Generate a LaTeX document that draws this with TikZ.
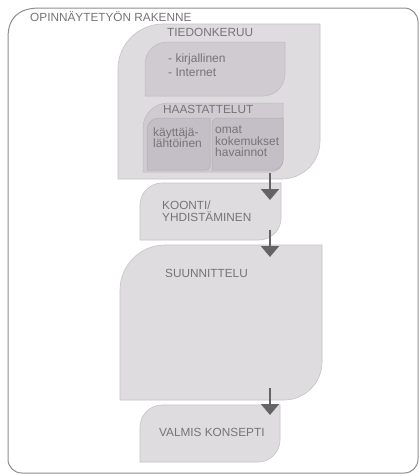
\documentclass[tikz,border=0pt]{standalone}
\usepackage{fontspec}
\setmainfont{Liberation Sans}
\usetikzlibrary{arrows.meta}

\definecolor{framegray}{HTML}{8E8E8E}
\definecolor{leafpale}{HTML}{DFDCDF}
\definecolor{leafedge}{HTML}{C6C3C6}
\definecolor{leafmid}{HTML}{CFCBD1}
\definecolor{leafdeep}{HTML}{C4BFC6}
\definecolor{inkgray}{HTML}{767477}
\definecolor{arrowgray}{HTML}{656366}

\newcommand{\leafbox}[7]{\draw[#1] (#2,#5) -- (#2,#3+#6) .. controls (#2,#3+0.45*#6) and (#2+0.45*#6,#3) .. (#2+#6,#3) -- (#4,#3) -- (#4,#5-#7) .. controls (#4,#5-0.45*#7) and (#4-0.45*#7,#5) .. (#4-#7,#5) -- cycle;}

\begin{document}
\begin{tikzpicture}[x=1pt, y=-1pt, outer/.style={draw=framegray, line width=1pt, fill=white}, pale/.style={fill=leafpale, draw=leafedge, line width=0.6pt}, mid/.style={fill=leafmid, draw=leafmid!92!black, line width=0.5pt}, deep/.style={fill=leafdeep, draw=leafdeep!90!black, line width=0.5pt}, head/.style={font=\fontsize{11.8}{11.8}\selectfont, text=inkgray, anchor=west, inner sep=0pt, align=left}, body/.style={font=\fontsize{12}{11.5}\selectfont, text=inkgray, anchor=west, inner sep=0pt, align=left}, flow/.style={-{Triangle[length=11pt, width=18pt]}, line width=2pt, draw=arrowgray}]

\useasboundingbox (0,0) rectangle (419,474);

\draw[outer] (8,459) -- (8,38) .. controls (8,18) and (18,8) .. (40,8) -- (404,8) .. controls (412,8) and (418,14) .. (418,22) -- (418,459) .. controls (418,467) and (412,473) .. (404,473) -- (22,473) .. controls (14,473) and (8,467) .. (8,459) -- cycle;
\node[head] (title) at (30,17) {OPINNÄYTETYÖN RAKENNE};

\leafbox{pale}{118}{24}{320}{179}{45}{38}
\leafbox{mid}{145}{42}{285}{96}{22}{22}
\leafbox{mid}{143}{103}{283}{172}{25}{12}
\leafbox{deep}{147}{118}{210}{170}{12}{4}
\leafbox{deep}{212}{118}{283}{170}{6}{10}
\leafbox{pale}{140}{183}{281}{240}{22}{22}
\leafbox{pale}{120}{245}{322}{400}{45}{38}
\leafbox{pale}{140}{405}{280}{462}{22}{22}

\node[head] (tiedon) at (167,32) {TIEDONKERUU};
\node[body] (lahteet) at (168,65) {- kirjallinen\\[2.5pt]- Internet};
\node[head] (haast) at (163,109) {HAASTATTELUT};
\node[body] (kayttaja) at (153,137.5) {käyttäjä-\\lähtöinen};
\node[body] (omat) at (215,141.5) {omat\\kokemukset\\havainnot};
\node[head] (koonti) at (162,211) {KOONTI/\\YHDISTÄMINEN};
\node[head] (suunn) at (165,273) {SUUNNITTELU};
\node[head] (valmis) at (159,432) {VALMIS KONSEPTI};

\coordinate (a1) at (270,173); \coordinate (b1) at (270,200);
\coordinate (a2) at (270,230); \coordinate (b2) at (270,257);
\coordinate (a3) at (270,388); \coordinate (b3) at (270,415);
\draw[flow] (a1) -- (b1);
\draw[flow] (a2) -- (b2);
\draw[flow] (a3) -- (b3);
\end{tikzpicture}
\end{document}
